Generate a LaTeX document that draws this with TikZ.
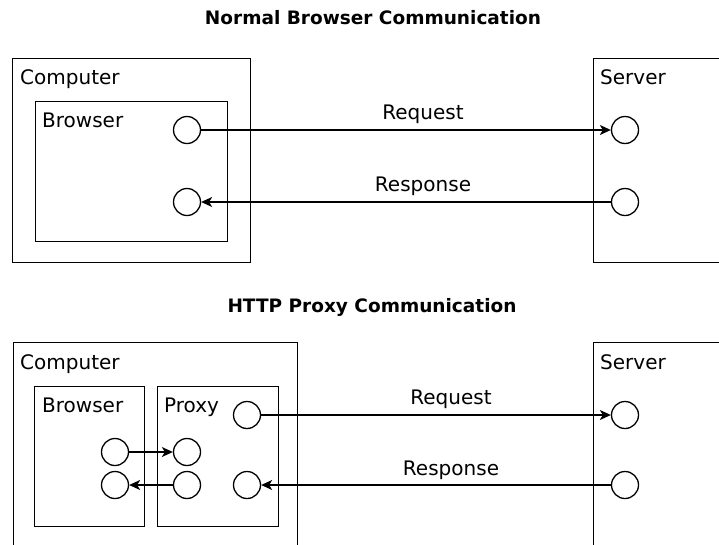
\documentclass[tikz,border=0pt]{standalone}
\usepackage{fontspec}
\setmainfont{DejaVu Sans}
\usetikzlibrary{arrows.meta}
\tikzset{
	box/.style={draw,line width=1.3pt,anchor=north west,inner sep=0pt},
	port/.style={draw,circle,line width=1.3pt,minimum size=27pt,inner sep=0pt},
	lbl/.style={anchor=base west,inner sep=0pt,font=\fontsize{20}{24}\selectfont},
	msg/.style={anchor=base,inner sep=0pt,font=\fontsize{20}{24}\selectfont},
	ttl/.style={anchor=base,inner sep=0pt,font=\fontsize{18.5}{22}\selectfont\bfseries},
	link/.style={line width=1.3pt,-{Stealth[length=11pt,width=10pt,inset=3pt]}}
}
\begin{document}
\begin{tikzpicture}[x=1pt,y=-1pt]
	\useasboundingbox (0,0) rectangle (719,544);
	\clip (0,0) rectangle (719,544);
	% normal browser communication
	\node[ttl] (title1) at (373,24) {Normal Browser Communication};
	\node[box,minimum width=238pt,minimum height=204pt] (comp1) at (12,58) {};
	\node[box,minimum width=192pt,minimum height=140pt] (brw1) at (35,101) {};
	\node[box,minimum width=160pt,minimum height=204pt] (srv1) at (593,58) {};
	\node[lbl] (comp1lbl) at (20,84) {Computer};
	\node[lbl] (brw1lbl) at (42,127) {Browser};
	\node[lbl] (srv1lbl) at (600,84) {Server};
	\node[port] (b1out) at (187,130) {};
	\node[port] (b1in) at (187,202) {};
	\node[port] (s1in) at (625,130) {};
	\node[port] (s1out) at (625,202) {};
	\draw[link] (b1out) -- (s1in);
	\draw[link] (s1out) -- (b1in);
	\node[msg] (req1) at (423,119) {Request};
	\node[msg] (resp1) at (423,191) {Response};
	% http proxy communication
	\node[ttl] (title2) at (372,312) {HTTP Proxy Communication};
	\node[box,minimum width=284pt,minimum height=250pt] (comp2) at (13,342) {};
	\node[box,minimum width=110pt,minimum height=140pt] (brw2) at (34,386) {};
	\node[box,minimum width=121pt,minimum height=140pt] (prx2) at (157,386) {};
	\node[box,minimum width=160pt,minimum height=250pt] (srv2) at (593,342) {};
	\node[lbl] (comp2lbl) at (20,369) {Computer};
	\node[lbl] (brw2lbl) at (42,412) {Browser};
	\node[lbl] (prx2lbl) at (164,412) {Proxy};
	\node[lbl] (srv2lbl) at (600,369) {Server};
	\node[port] (b2out) at (115,452) {};
	\node[port] (b2in) at (115,485) {};
	\node[port] (p2in) at (187,452) {};
	\node[port] (p2out) at (187,485) {};
	\node[port] (p2req) at (247,415) {};
	\node[port] (p2resp) at (247,485) {};
	\node[port] (s2in) at (625,415) {};
	\node[port] (s2out) at (625,485) {};
	\draw[link] (b2out) -- (p2in);
	\draw[link] (p2out) -- (b2in);
	\draw[link] (p2req) -- (s2in);
	\draw[link] (s2out) -- (p2resp);
	\node[msg] (req2) at (451,404) {Request};
	\node[msg] (resp2) at (451,475) {Response};
\end{tikzpicture}
\end{document}
